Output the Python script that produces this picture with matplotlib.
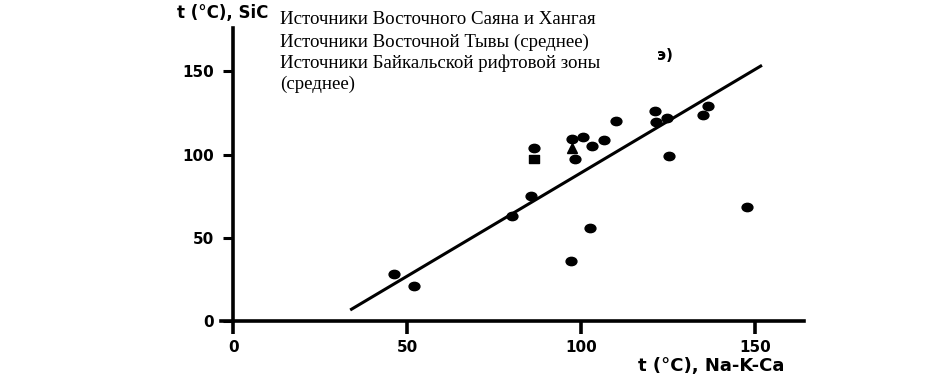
import matplotlib.pyplot as plt
import numpy as np
from matplotlib.path import Path
from matplotlib.transforms import Affine2D

# Na-K-Ca temperature vs SiO2 temperature, springs (circles)
x_pts = [46.3, 51.8, 80.1, 85.6, 86.3, 97.3, 98.1, 100.5, 103.1, 106.4, 110.0,
         121.3, 121.5, 124.6, 125.3, 134.9, 136.3, 147.6, 102.4, 97.1]
y_pts = [28.2, 21.0, 63.0, 75.0, 104.0, 109.6, 97.2, 110.4, 105.0, 109.0, 120.0,
         126.2, 119.4, 122.0, 99.2, 124.0, 129.4, 68.2, 56.0, 36.0]
# averages
x_tuva, y_tuva = [97.3], [104.2]        # triangle
x_baikal, y_baikal = [86.3], [97.6]     # square
# regression line ends
x_fit = [33.6, 151.9]
y_fit = [6.6, 153.6]

xticks = [0, 50, 100, 150]
yticks = [0, 50, 100, 150]

legend_lines = ["Источники Восточного Саяна и Хангая",
                "Источники Восточной Тывы (среднее)",
                "Источники Байкальской рифтовой зоны",
                "(среднее)"]

# flattened markers like the scan
oval = Affine2D().scale(1.3, 1.0).transform_path(Path.unit_circle())
flat_sq = Affine2D().translate(-0.5, -0.5).scale(1.2, 1.0).transform_path(Path.unit_rectangle())

fig = plt.figure(figsize=(9.45, 3.82), dpi=100)
ax = fig.add_axes([0.2339, 0.1597, 0.617, 0.767])

ax.plot(x_fit, y_fit, color='black', lw=2.2, solid_capstyle='butt')
ax.plot(x_pts, y_pts, ls='none', marker=oval, ms=7.8, color='black')
ax.plot(x_tuva, y_tuva, ls='none', marker='^', ms=6.5, color='black')
ax.plot(x_baikal, y_baikal, ls='none', marker=flat_sq, ms=7, color='black')

ax.set_xlim(-3.5, 164)
ax.set_ylim(0, 176)
for s in ['top', 'right']:
    ax.spines[s].set_visible(False)
ax.spines['left'].set_position(('data', 0))
ax.spines['bottom'].set_position(('data', 0))
for s in ['left', 'bottom']:
    ax.spines[s].set_linewidth(2.6)

ax.set_xticks(xticks)
ax.set_yticks(yticks)
ax.tick_params(axis='y', direction='out', length=7, width=2.2, pad=7)
ax.tick_params(axis='x', direction='out', length=9, width=2.6, pad=5)
for lab in ax.get_xticklabels() + ax.get_yticklabels():
    lab.set_fontsize(11)
    lab.set_fontweight('semibold')
    lab.set_family('DejaVu Sans')

fig.text(0.187, 0.965, "t (°C), SiC", fontsize=12, fontweight='semibold',
         ha='left', va='center')
fig.text(0.675, 0.042, "t (°C), Na-K-Ca", fontsize=13, fontweight='semibold',
         ha='left', va='center')
fig.text(0.695, 0.856, "э)", fontsize=11, fontweight='bold', ha='left', va='center')

line_y = [20, 42, 63, 84]
for txt, yy in zip(legend_lines, line_y):
    fig.text(280 / 945, 1 - yy / 382, txt, fontsize=13.6, family='Liberation Serif',
             ha='left', va='center')

fig.savefig('out.png', dpi=100)
